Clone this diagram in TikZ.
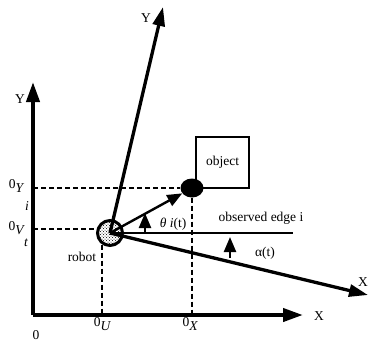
\documentclass[tikz,border=0pt]{standalone}
\usepackage{fontspec}
\setmainfont{Liberation Serif}
\usetikzlibrary{arrows.meta, positioning, shapes.geometric, patterns}

\newcommand{\bawah}[1]{\raisebox{-4pt}{\itshape #1}}

\begin{document}
\begin{tikzpicture}[
    x=1pt, y=-1pt,
    font=\fontsize{13.5}{15}\selectfont,
    sumbu/.style={line width=4pt, -{Triangle[length=20pt, width=13pt]}},
    miring/.style={line width=3.3pt, -{Triangle[length=19pt, width=12pt]}},
    panah/.style={line width=2.4pt, -{Triangle[length=15pt, width=12pt]}},
    putus/.style={line width=1.8pt, dash pattern=on 5pt off 3pt},
    teks/.style={inner sep=1pt}
  ]
    \useasboundingbox (0,0) rectangle (369,341);
    % sumbu utama
    \coordinate (O) at (33,315);
    \coordinate (ytip) at (33,82);
    \coordinate (xtip) at (303,315);
    \draw[sumbu] (O) -- (ytip);
    \draw[sumbu] (O) -- (xtip);
    \node[teks] (ylab) at (20,99) {Y};
    \node[teks] (xlab) at (319,316) {X};
    \node[teks] (nol) at (36,335) {0};
    % robot dan objek
    \coordinate (rc) at (110,233);
    \coordinate (yrtip) at (163,7);
    \coordinate (xrtip) at (368,295);
    \coordinate (edge) at (293,233);
    \draw[miring] (rc) -- (yrtip);
    \draw[miring] (rc) -- (xrtip);
    \draw[line width=2pt] (rc) -- (edge);
    \node[teks] (yrlab) at (146,18) {Y};
    \node[teks, anchor=east] (xrlab) at (369,282) {X};
    \node[draw, line width=1.5pt, minimum width=53pt, minimum height=51pt] (obj) at (222.5,162.5) {object};
    \node[ellipse, fill, minimum width=23pt, minimum height=19pt, inner sep=0pt] (dot) at (192,188) {};
    \node[circle, draw, line width=3pt, minimum size=25pt, inner sep=0pt,
          pattern=crosshatch dots] (robot) at (rc) {};
    \draw[panah] (robot.center) -- (dot);
    % garis putus-putus
    \draw[putus] (O |- dot) -- (dot.west);
    \draw[putus] (dot.south) -- (dot |- O);
    \draw[putus] (O |- robot.165) -- (robot.165);
    \draw[putus] (robot.236) -- (robot.236 |- O);
    % sudut
    \coordinate (th0) at (145,233);
    \coordinate (th1) at (145,213);
    \coordinate (al0) at (230,258);
    \coordinate (al1) at (230,237);
    \draw[panah] (th0) -- (th1);
    \draw[panah] (al0) -- (al1);
    \node[teks] (thlab) at (173,224) {\textit{θ i}(t)};
    \node[teks] (allab) at (265,253) {α(t)};
    \node[teks] (edlab) at (261,218) {observed edge i};
    \node[teks] (rlab) at (82,257) {robot};
    % label koordinat
    \node[teks] (oy) at (16,186) {0\bawah{Y}};
    \node[teks] (oyi) at (27,206) {\itshape i};
    \node[teks] (ov) at (16,228) {0\bawah{V}};
    \node[teks] (ovt) at (26,243) {\itshape t};
    \node[teks] (ou) at (102,324) {0\bawah{U}};
    \node[teks] (ox) at (190,324) {0\bawah{X}};
\end{tikzpicture}
\end{document}
